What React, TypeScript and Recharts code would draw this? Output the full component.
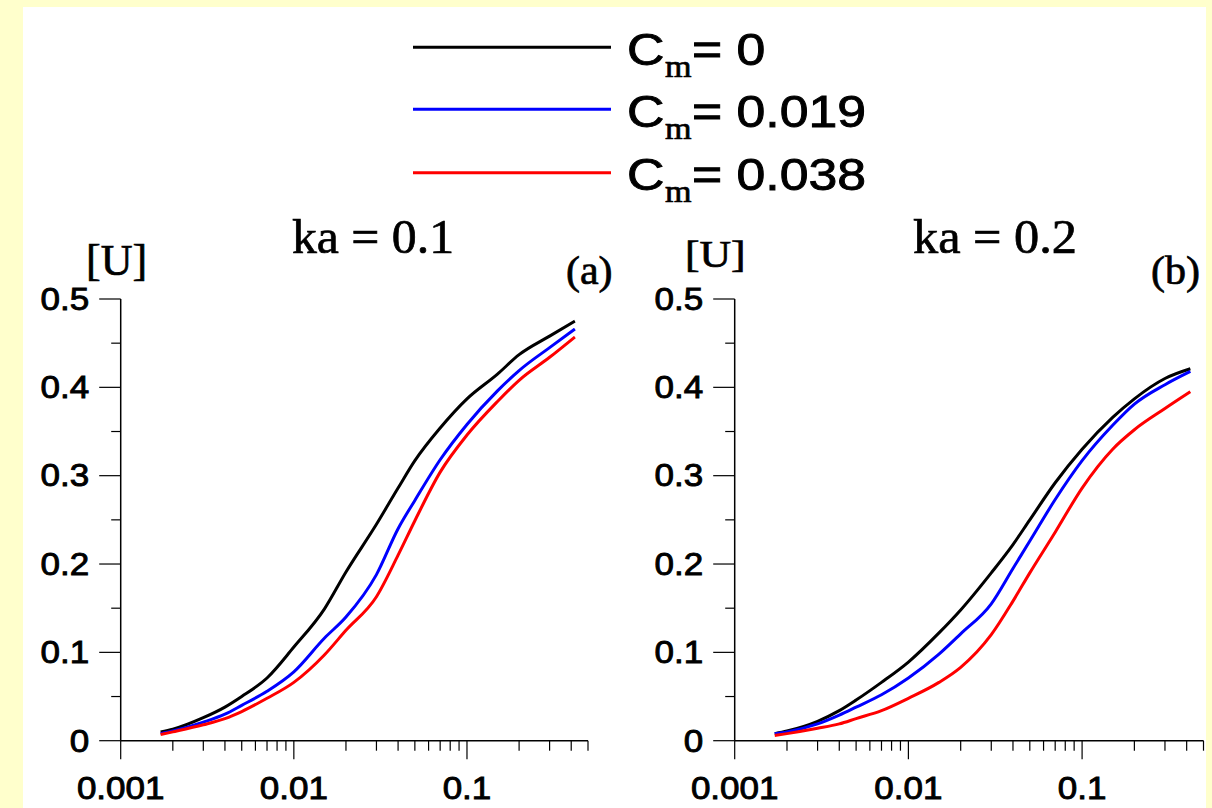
import React from 'react';
import { LineChart, Line, XAxis, YAxis } from 'recharts';

// ---- data ----
const xValues = [0.0017, 0.002, 0.003, 0.004, 0.005, 0.007, 0.01, 0.015, 0.02, 0.03, 0.04, 0.05, 0.07, 0.1, 0.15, 0.2, 0.3, 0.42];

const panelA_Cm0 = [0.010, 0.013, 0.026, 0.038, 0.050, 0.071, 0.106, 0.149, 0.191, 0.245, 0.286, 0.317, 0.354, 0.387, 0.415, 0.437, 0.458, 0.475];
const panelA_Cm019 = [0.008, 0.011, 0.021, 0.030, 0.040, 0.056, 0.078, 0.116, 0.140, 0.188, 0.240, 0.272, 0.318, 0.358, 0.396, 0.419, 0.445, 0.466];
const panelA_Cm038 = [0.007, 0.010, 0.018, 0.025, 0.033, 0.048, 0.066, 0.097, 0.125, 0.163, 0.210, 0.249, 0.304, 0.346, 0.384, 0.408, 0.434, 0.457];

const panelB_Cm0 = [0.008, 0.011, 0.022, 0.034, 0.046, 0.066, 0.089, 0.122, 0.148, 0.190, 0.222, 0.250, 0.292, 0.330, 0.366, 0.387, 0.410, 0.421];
const panelB_Cm019 = [0.008, 0.010, 0.019, 0.029, 0.038, 0.052, 0.071, 0.098, 0.121, 0.155, 0.195, 0.226, 0.273, 0.317, 0.357, 0.381, 0.403, 0.418];
const panelB_Cm038 = [0.006, 0.008, 0.014, 0.019, 0.025, 0.034, 0.048, 0.066, 0.083, 0.120, 0.158, 0.190, 0.236, 0.286, 0.330, 0.352, 0.376, 0.395];

const seriesNames = ['Cm0', 'Cm019', 'Cm038'];
const seriesColors = ['#000000', '#0000FF', '#FF0000'];
const legendValues = ['0', '0.019', '0.038'];

const xTicks = [
  0.001, 0.002, 0.003, 0.004, 0.005, 0.006, 0.007, 0.008, 0.009,
  0.01, 0.02, 0.03, 0.04, 0.05, 0.06, 0.07, 0.08, 0.09,
  0.1, 0.2, 0.3, 0.4, 0.5,
];
const xMajorTicks = [0.001, 0.01, 0.1];
const xMajorLabels = ['0.001', '0.01', '0.1'];
const yTicks = [0, 0.05, 0.1, 0.15, 0.2, 0.25, 0.3, 0.35, 0.4, 0.45, 0.5];
const yMajorTicks = [0, 0.1, 0.2, 0.3, 0.4, 0.5];
const yMajorLabels = ['0', '0.1', '0.2', '0.3', '0.4', '0.5'];

const titles = ['ka = 0.1', 'ka = 0.2'];
const panelTags = ['(a)', '(b)'];
const yAxisTitle = '[U]';

const buildData = (a: number[], b: number[], c: number[]) =>
  xValues.map((x, i) => ({ x, Cm0: a[i], Cm019: b[i], Cm038: c[i] }));

const dataA = buildData(panelA_Cm0, panelA_Cm019, panelA_Cm038);
const dataB = buildData(panelB_Cm0, panelB_Cm019, panelB_Cm038);

// ---- styles ----
const SANS = "'Liberation Sans', Arial, Helvetica, sans-serif";
const SERIF = "'Liberation Serif', 'Times New Roman', Times, serif";
const TICK_FONT = 31;
const TICK_SX = 1.13;
const HEAVY = { stroke: '#000', strokeWidth: 0.9, paintOrder: 'stroke' } as any;
const HEAVY_SERIF = { stroke: '#000', strokeWidth: 0.7, paintOrder: 'stroke' } as any;

const findIdx = (arr: number[], v: number) => arr.findIndex((t) => Math.abs(t - v) < 1e-9);

const XTick = (props: any) => {
  const { x, y, payload } = props;
  const idx = findIdx(xMajorTicks, payload.value);
  const major = idx >= 0;
  return (
    <g>
      <line x1={x} x2={x} y1={y} y2={y + (major ? 18.6 : 10)} stroke="#000" strokeWidth={1.2} />
      {major && (
        <g transform={`translate(${x},${y + 58}) scale(${TICK_SX},1)`}>
          <text x={0} y={0} textAnchor="middle" fontFamily={SANS} fontSize={TICK_FONT} fill="#000" {...HEAVY}>
            {xMajorLabels[idx]}
          </text>
        </g>
      )}
    </g>
  );
};

const YTick = (props: any) => {
  const { x, y, payload } = props;
  const idx = findIdx(yMajorTicks, payload.value);
  const major = idx >= 0;
  return (
    <g>
      <line x1={x - (major ? 21.5 : 9.5)} x2={x} y1={y} y2={y} stroke="#000" strokeWidth={1.2} />
      {major && (
        <g transform={`translate(${x - 31.5},${y + 10.8}) scale(${TICK_SX},1)`}>
          <text x={0} y={0} textAnchor="end" fontFamily={SANS} fontSize={TICK_FONT} fill="#000" {...HEAVY}>
            {yMajorLabels[idx]}
          </text>
        </g>
      )}
    </g>
  );
};

const Panel = ({ data, yAxisWidth, rightMargin, width }: any) => (
  <LineChart
    width={width}
    height={808}
    data={data}
    margin={{ top: 299, right: rightMargin, bottom: 0, left: 0 }}
  >
    <XAxis
      dataKey="x"
      type="number"
      scale="log"
      domain={[0.001, 0.5]}
      allowDataOverflow
      ticks={xTicks}
      interval={0}
      tick={<XTick />}
      tickLine={false}
      tickSize={0}
      tickMargin={0}
      height={67.3}
      axisLine={{ stroke: '#000', strokeWidth: 1.5 }}
    />
    <YAxis
      type="number"
      domain={[0, 0.5]}
      allowDataOverflow
      ticks={yTicks}
      interval={0}
      tick={<YTick />}
      tickLine={false}
      tickSize={0}
      tickMargin={0}
      width={yAxisWidth}
      axisLine={{ stroke: '#000', strokeWidth: 1.5 }}
    />
    {seriesNames.map((name, i) => (
      <Line
        key={name}
        dataKey={name}
        type="monotone"
        stroke={seriesColors[i]}
        strokeWidth={3}
        dot={false}
        activeDot={false}
        isAnimationActive={false}
      />
    ))}
  </LineChart>
);

const SText = ({ x, y, sx = 1, children, ...rest }: any) => (
  <g transform={`translate(${x},${y}) scale(${sx},1)`}>
    <text x={0} y={0} {...rest}>
      {children}
    </text>
  </g>
);

const legendLineY = [47.3, 109.3, 172.7];

export default function App() {
  return (
    <div
      style={{
        position: 'absolute',
        left: 0,
        top: 0,
        width: 1212,
        height: 808,
        background: '#FFFFCC',
        overflow: 'hidden',
      }}
    >
      <div style={{ position: 'absolute', left: 23, top: 7, width: 1183, height: 801, background: '#FFFFFF' }} />
      <div style={{ position: 'absolute', left: 0, top: 0 }}>
        <Panel data={dataA} yAxisWidth={120.7} rightMargin={12} width={600} />
      </div>
      <div style={{ position: 'absolute', left: 600, top: 0 }}>
        <Panel data={dataB} yAxisWidth={134.7} rightMargin={8.5} width={612} />
      </div>
      <svg
        width={1212}
        height={808}
        style={{ position: 'absolute', left: 0, top: 0, pointerEvents: 'none' }}
      >
        {/* legend */}
        {legendValues.map((v, i) => (
          <g key={v}>
            <line x1={413} x2={611} y1={legendLineY[i]} y2={legendLineY[i]} stroke={seriesColors[i]} strokeWidth={3} />
            <SText x={627} y={legendLineY[i] + 17.7} sx={1.15} fontFamily={SANS} fontSize={45} fill="#000" {...HEAVY}>
              C
            </SText>
            <SText x={665} y={legendLineY[i] + 29.5} sx={1.1} fontFamily={SERIF} fontSize={31} fill="#000" {...HEAVY_SERIF}>
              m
            </SText>
            <SText x={692} y={legendLineY[i] + 17.7} sx={1.15} fontFamily={SANS} fontSize={45} fill="#000" {...HEAVY}>
              {`= ${v}`}
            </SText>
          </g>
        ))}
        {/* titles */}
        <text x={292} y={253} fontFamily={SERIF} fontSize={48} textLength={162} lengthAdjust="spacingAndGlyphs" fill="#000" {...HEAVY_SERIF}>
          {titles[0]}
        </text>
        <text x={913} y={253} fontFamily={SERIF} fontSize={48} textLength={164} lengthAdjust="spacingAndGlyphs" fill="#000" {...HEAVY_SERIF}>
          {titles[1]}
        </text>
        <SText x={566} y={283.5} sx={1.05} fontFamily={SERIF} fontSize={40} fill="#000" {...HEAVY_SERIF}>
          {panelTags[0]}
        </SText>
        <SText x={1151} y={284} sx={1.05} fontFamily={SERIF} fontSize={40} fill="#000" {...HEAVY_SERIF}>
          {panelTags[1]}
        </SText>
        <SText x={86} y={275} sx={1.0} fontFamily={SERIF} fontSize={44} fill="#000" {...HEAVY_SERIF}>
          {yAxisTitle}
        </SText>
        <SText x={685} y={267} sx={1.15} fontFamily={SERIF} fontSize={38} fill="#000" {...HEAVY_SERIF}>
          {yAxisTitle}
        </SText>
      </svg>
    </div>
  );
}
